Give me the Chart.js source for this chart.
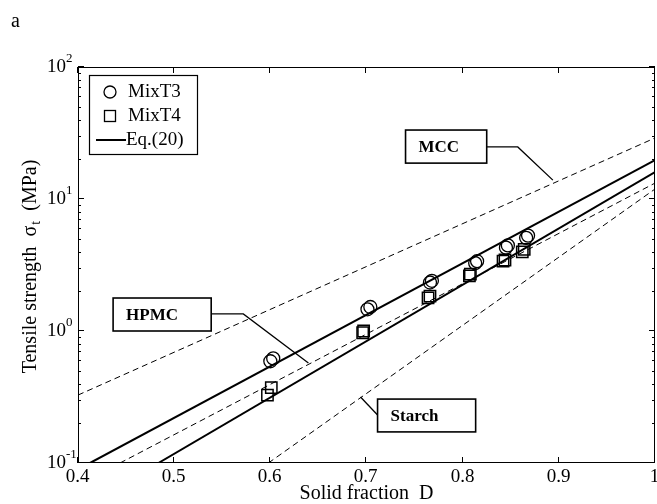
<!DOCTYPE html>
<html>
<head>
<meta charset="utf-8">
<script src="https://cdn.jsdelivr.net/npm/chart.js@4.4.0/dist/chart.umd.min.js"></script>
<style>
  html, body { margin: 0; padding: 0; background: #fff; overflow: hidden; }
  #wrap { width: 657px; height: 504px; }
</style>
</head>
<body>
<div id="wrap"><canvas id="chart" width="657" height="504"></canvas></div>
<script>
// axis ticks
const xTickValues = [0.4, 0.5, 0.6, 0.7, 0.8, 0.9, 1];
const xTickLabels = ['0.4', '0.5', '0.6', '0.7', '0.8', '0.9', '1'];
const yTickValues = [0.1, 1, 10, 100];
const yTickExps = ['-1', '0', '1', '2'];

// measured points (solid fraction D, tensile strength MPa)
const mixT3D = [0.600, 0.603, 0.701, 0.704, 0.766, 0.768, 0.813, 0.815, 0.845, 0.847, 0.866, 0.868];
const mixT3Sigma = [0.59, 0.62, 1.46, 1.52, 2.33, 2.40, 3.27, 3.38, 4.28, 4.45, 5.08, 5.28];
const mixT4D = [0.597, 0.601, 0.696, 0.697, 0.764, 0.766, 0.807, 0.808, 0.842, 0.844, 0.862, 0.864];
const mixT4Sigma = [0.327, 0.372, 0.97, 1.00, 1.78, 1.84, 2.62, 2.70, 3.38, 3.45, 3.98, 4.15];

// Eq.(20) lines
const eqT3D = [0.4125, 1.0];
const eqT3Sigma = [0.1, 19.7];
const eqT4D = [0.4836, 1.0];
const eqT4Sigma = [0.1, 16.0];

// pure components (dashed)
const mccD = [0.4, 1.0];
const mccSigma = [0.327, 29];
const hpmcD = [0.4437, 1.0];
const hpmcSigma = [0.1, 13.2];
const starchD = [0.598, 1.0];
const starchSigma = [0.1, 11.9];

// callout labels, in data units: box [D0, D1, sigmaTop, sigmaBottom], leader path
const callouts = [
    { text: 'MCC', box: [0.7406, 0.825, 33.3, 18.7], path: [[0.825, 24.8], [0.8573, 24.8], [0.8938, 13.9]] },
    { text: 'HPMC', box: [0.4365, 0.5385, 1.778, 1.0], path: [[0.5385, 1.346], [0.5719, 1.346], [0.6396, 0.573]] },
    { text: 'Starch', box: [0.7115, 0.8135, 0.305, 0.172], path: [[0.7115, 0.231], [0.6938, 0.316]] }
];

const pts = (xs, ys) => xs.map((x, i) => ({ x: x, y: ys[i] }));
const FONT = '"Liberation Serif", "Times New Roman", serif';

function lineSet(label, xs, ys, dashed) {
    return {
        type: 'line',
        label: label,
        data: pts(xs, ys),
        borderColor: '#000',
        borderWidth: dashed ? 1 : 2,
        borderDash: dashed ? [6, 4] : [],
        pointRadius: 0,
        fill: false
    };
}

const decoPlugin = {
    id: 'deco',
    afterDraw(chart) {
        const ctx = chart.ctx;
        const a = chart.chartArea;
        const xs = chart.scales.x, ys = chart.scales.y;
        ctx.save();
        ctx.strokeStyle = '#000';
        ctx.fillStyle = '#000';
        ctx.lineWidth = 1;
        ctx.strokeRect(a.left + 0.5, a.top + 0.5, a.right - a.left - 1, a.bottom - a.top - 1);

        // x ticks (inward, top and bottom) + labels
        ctx.font = '19px ' + FONT;
        ctx.textAlign = 'center';
        ctx.textBaseline = 'middle';
        xTickValues.forEach((v, i) => {
            const px = Math.round(xs.getPixelForValue(v)) - 0.5;
            ctx.beginPath();
            ctx.moveTo(px, a.bottom); ctx.lineTo(px, a.bottom - 6);
            ctx.moveTo(px, a.top); ctx.lineTo(px, a.top + 6);
            ctx.stroke();
            ctx.fillText(xTickLabels[i], px, a.bottom + 14);
        });

        // y ticks, major and minor, both sides
        yTickValues.forEach((v, i) => {
            const py = Math.round(ys.getPixelForValue(v)) - 0.5;
            ctx.beginPath();
            ctx.moveTo(a.left, py); ctx.lineTo(a.left + 6, py);
            ctx.moveTo(a.right, py); ctx.lineTo(a.right - 6, py);
            ctx.stroke();
            if (i < yTickValues.length - 1) {
                for (let k = 2; k <= 9; k++) {
                    const my = Math.round(ys.getPixelForValue(v * k)) + 0.5;
                    ctx.beginPath();
                    ctx.moveTo(a.left, my); ctx.lineTo(a.left + 3, my);
                    ctx.moveTo(a.right, my); ctx.lineTo(a.right - 3, my);
                    ctx.stroke();
                }
            }
            ctx.font = '19px ' + FONT;
            ctx.textAlign = 'right';
            ctx.textBaseline = 'middle';
            ctx.fillText('10', a.left - 12, py + 1);
            ctx.font = '13px ' + FONT;
            ctx.textAlign = 'left';
            ctx.fillText(yTickExps[i], a.left - 12, py - 8);
        });

        // axis titles
        ctx.font = '20px ' + FONT;
        ctx.textAlign = 'center';
        ctx.textBaseline = 'middle';
        ctx.fillText('Solid fraction  D', (a.left + a.right) / 2, 494);

        ctx.save();
        ctx.translate(29, 267);
        ctx.rotate(-Math.PI / 2);
        const p1 = 'Tensile strength  \u03c3', p2 = 't', p3 = '  (MPa)';
        ctx.font = '20px ' + FONT;
        const w1 = ctx.measureText(p1).width, w3 = ctx.measureText(p3).width;
        ctx.font = '14px ' + FONT;
        const w2 = ctx.measureText(p2).width;
        let x0 = -(w1 + w2 + w3) / 2;
        ctx.textAlign = 'left';
        ctx.textBaseline = 'alphabetic';
        ctx.font = '20px ' + FONT;
        ctx.fillText(p1, x0, 7);
        ctx.font = '14px ' + FONT;
        ctx.fillText(p2, x0 + w1 + 1, 11);
        ctx.font = '20px ' + FONT;
        ctx.fillText(p3, x0 + w1 + w2 + 1, 7);
        ctx.restore();

        // panel letter
        ctx.font = '20px ' + FONT;
        ctx.textAlign = 'left';
        ctx.textBaseline = 'alphabetic';
        ctx.fillText('a', 11, 27);

        // callouts
        callouts.forEach(c => {
            const x0 = xs.getPixelForValue(c.box[0]), x1 = xs.getPixelForValue(c.box[1]);
            const y0 = ys.getPixelForValue(c.box[2]), y1 = ys.getPixelForValue(c.box[3]);
            ctx.fillStyle = '#fff';
            ctx.fillRect(x0, y0, x1 - x0, y1 - y0);
            ctx.lineWidth = 1.6;
            ctx.strokeStyle = '#000';
            ctx.strokeRect(x0, y0, x1 - x0, y1 - y0);
            ctx.fillStyle = '#000';
            ctx.font = 'bold 17px ' + FONT;
            ctx.textAlign = 'left';
            ctx.textBaseline = 'middle';
            ctx.fillText(c.text, x0 + 13, (y0 + y1) / 2 + 1);
            ctx.lineWidth = 1.3;
            ctx.beginPath();
            c.path.forEach((p, j) => {
                const px = xs.getPixelForValue(p[0]), py = ys.getPixelForValue(p[1]);
                if (j === 0) ctx.moveTo(px, py); else ctx.lineTo(px, py);
            });
            ctx.stroke();
        });

        // legend
        const lx = 89, ly = 75, lw = 108, lh = 79;
        ctx.fillStyle = '#fff';
        ctx.fillRect(lx, ly, lw, lh);
        ctx.lineWidth = 1.2;
        ctx.strokeRect(lx + 0.5, ly + 0.5, lw, lh);
        ctx.fillStyle = '#000';
        ctx.font = '19px ' + FONT;
        ctx.textAlign = 'left';
        ctx.textBaseline = 'middle';
        const names = chart.data.datasets.map(d => d.label);
        ctx.lineWidth = 1.3;
        ctx.beginPath(); ctx.arc(110, 92, 6, 0, Math.PI * 2); ctx.stroke();
        ctx.fillText(names[0], 128, 92);
        ctx.strokeRect(104.5, 110.5, 11, 11);
        ctx.fillText(names[1], 128, 116);
        ctx.lineWidth = 2;
        ctx.beginPath(); ctx.moveTo(96, 140); ctx.lineTo(126, 140); ctx.stroke();
        ctx.fillText(names[2], 126, 140);
        ctx.restore();
    }
};

new Chart(document.getElementById('chart'), {
    type: 'scatter',
    data: {
        datasets: [
            {
                label: 'MixT3',
                data: pts(mixT3D, mixT3Sigma),
                pointStyle: 'circle',
                pointRadius: 6.5,
                borderWidth: 1.3,
                borderColor: '#000',
                backgroundColor: 'rgba(0,0,0,0)'
            },
            {
                label: 'MixT4',
                data: pts(mixT4D, mixT4Sigma),
                pointStyle: 'rect',
                pointRadius: 8,
                borderWidth: 1.5,
                borderColor: '#000',
                backgroundColor: 'rgba(0,0,0,0)'
            },
            lineSet('Eq.(20)', eqT3D, eqT3Sigma, false),
            lineSet('Eq.(20) MixT4', eqT4D, eqT4Sigma, false),
            lineSet('MCC', mccD, mccSigma, true),
            lineSet('HPMC', hpmcD, hpmcSigma, true),
            lineSet('Starch', starchD, starchSigma, true)
        ]
    },
    options: {
        responsive: false,
        maintainAspectRatio: false,
        animation: false,
        layout: { autoPadding: false, padding: { left: 78, right: 2, top: 67, bottom: 41 } },
        scales: {
            x: { type: 'linear', min: 0.4, max: 1, display: false },
            y: { type: 'logarithmic', min: 0.1, max: 100, display: false }
        },
        plugins: {
            legend: { display: false },
            tooltip: { enabled: false }
        }
    },
    plugins: [decoPlugin]
});
</script>
</body>
</html>
